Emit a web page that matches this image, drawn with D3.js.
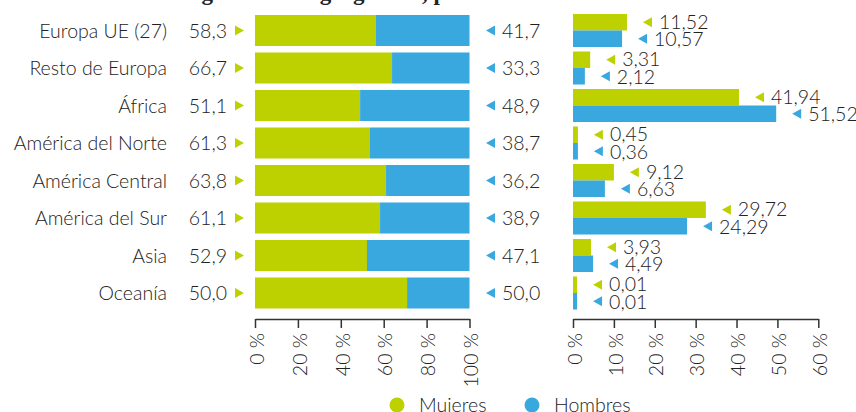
<!DOCTYPE html>
<html><head><meta charset="utf-8">
<script src="https://cdn.jsdelivr.net/npm/d3@7"></script>
<style>body{margin:0;background:#fff;overflow:hidden} text{font-family:Lato,sans-serif;font-weight:300;fill:#222}</style>
</head><body><svg id="c" width="856" height="412"></svg>
<script>
const title = "Distribución según la zona geográfica, por sexo";
const categories = ["Europa UE (27)","Resto de Europa","África","América del Norte","América Central","América del Sur","Asia","Oceanía"];
// percentage labels (share of each sex within area)
const mujeresPct = [58.3,66.7,51.1,61.3,63.8,61.1,52.9,50.0];
const hombresPct = [41.7,33.3,48.9,38.7,36.2,38.9,47.1,50.0];
// women's share as drawn by the stacked bars of the original
const mujeresBarPct = [56.4,63.9,49.0,53.6,61.1,58.3,52.2,70.9];
// share of each area within total, by sex (labels)
const mujeresShare = [11.52,3.31,41.94,0.45,9.12,29.72,3.93,0.01];
const hombresShare = [10.57,2.12,51.52,0.36,6.63,24.29,4.49,0.01];
// bar lengths as drawn in the original
const mujeresShareBar = [13.2,4.2,40.6,1.2,10.0,32.5,4.4,1.0];
const hombresShareBar = [12.0,2.9,49.7,1.2,7.8,27.9,4.9,1.0];
const pctTicks = [0,20,40,60,80,100];
const shareTicks = [0,10,20,30,40,50,60];
const legendLabels = ["Mujeres","Hombres"];

const GREEN = "#bdd000", BLUE = "#38a8df";
const svg = d3.select("#c");
const loc = d3.formatLocale({decimal:",",thousands:".",grouping:[3],currency:["","€"]});
const f1 = loc.format(".1f"), f2 = loc.format(".2f");
const FS = 19.5;

svg.append("text").attr("x",54).attr("y",0)
  .style("font-family","'Liberation Serif',serif").style("font-weight","bold").style("font-size","23px")
  .text(title);

const y = d3.scaleBand().domain(categories).range([11.75,311.75]).paddingInner(0.173).paddingOuter(0.0865);
const bw = y.bandwidth();
const xL = d3.scaleLinear().domain([0,100]).range([255,469.5]);
const xR = d3.scaleLinear().domain([0,60]).range([573,818.3]);

const rows = categories.map((c,i)=>({c,i}));

// category labels
svg.append("g").selectAll("text").data(rows).join("text")
  .attr("x",167).attr("y",d=>y(d.c)+bw/2+0.36*FS)
  .attr("text-anchor","end").style("font-size",FS+"px").text(d=>d.c);

// left value labels
svg.append("g").selectAll("text").data(rows).join("text")
  .attr("x",227).attr("y",d=>y(d.c)+bw/2+0.36*FS)
  .attr("text-anchor","end").style("font-size",FS+"px").text(d=>f1(mujeresPct[d.i]));
svg.append("g").selectAll("path").data(rows).join("path")
  .attr("d","M0,-5L9,0L0,5Z").attr("fill",GREEN)
  .attr("transform",d=>`translate(235,${y(d.c)+bw/2})`);

// stacked bars
svg.append("g").selectAll("rect").data(rows).join("rect")
  .attr("x",xL(0)).attr("y",d=>y(d.c)).attr("height",bw)
  .attr("width",d=>xL(mujeresBarPct[d.i])-xL(0)).attr("fill",GREEN);
svg.append("g").selectAll("rect").data(rows).join("rect")
  .attr("x",d=>xL(mujeresBarPct[d.i])).attr("y",d=>y(d.c)).attr("height",bw)
  .attr("width",d=>xL(100)-xL(mujeresBarPct[d.i])).attr("fill",BLUE);

// right-side labels of stacked bars
svg.append("g").selectAll("path").data(rows).join("path")
  .attr("d","M0,0L9,-5L9,5Z").attr("fill",BLUE)
  .attr("transform",d=>`translate(486,${y(d.c)+bw/2})`);
svg.append("g").selectAll("text").data(rows).join("text")
  .attr("x",502).attr("y",d=>y(d.c)+bw/2+0.36*FS)
  .style("font-size",FS+"px").text(d=>f1(hombresPct[d.i]));

// right chart bars
const sub = d3.scaleBand().domain(["M","H"]).range([-1,bw+1]);
const series = [
  {k:"M",bar:mujeresShareBar,val:mujeresShare,col:GREEN,dy:6.5},
  {k:"H",bar:hombresShareBar,val:hombresShare,col:BLUE,dy:7.5}
];
series.forEach(s=>{
  const g = svg.append("g");
  g.selectAll("rect").data(rows).join("rect")
    .attr("x",xR(0)).attr("y",d=>y(d.c)+sub(s.k)).attr("height",sub.bandwidth())
    .attr("width",d=>xR(s.bar[d.i])-xR(0)).attr("fill",s.col);
  g.selectAll("path").data(rows).join("path")
    .attr("d","M0,0L9,-5L9,5Z").attr("fill",s.col)
    .attr("transform",d=>`translate(${xR(s.bar[d.i])+16},${y(d.c)+sub(s.k)+sub.bandwidth()/2})`);
  g.selectAll("text").data(rows).join("text")
    .attr("x",d=>xR(s.bar[d.i])+32).attr("y",d=>y(d.c)+sub(s.k)+sub.bandwidth()/2+s.dy)
    .style("font-size",FS+"px").text(d=>f2(s.val[d.i]));
});

// axes
function drawAxis(scale, ticks){
  const g = svg.append("g").attr("transform","translate(0,319)");
  const ax = d3.axisBottom(scale).tickValues(ticks).tickSizeInner(9).tickSizeOuter(0).tickFormat(d=>d+" %");
  g.call(ax);
  g.select(".domain").attr("stroke","#333").attr("stroke-width",1.5);
  g.selectAll(".tick line").attr("stroke","#333").attr("stroke-width",1.5);
  g.selectAll(".tick text")
    .attr("transform","rotate(-90)")
    .attr("x",-14).attr("y",0).attr("dy","0.42em")
    .attr("text-anchor","end")
    .style("font-family","Lato,sans-serif").style("font-weight","300").style("font-size",FS+"px").attr("fill","#222");
}
drawAxis(xL, pctTicks);
drawAxis(xR, shareTicks);

// legend
const leg = svg.append("g");
const legX = [397,532];
leg.selectAll("circle").data(legendLabels).join("circle")
  .attr("cx",(d,i)=>legX[i]).attr("cy",405).attr("r",7.5)
  .attr("fill",(d,i)=>[GREEN,BLUE][i]);
leg.selectAll("text").data(legendLabels).join("text")
  .attr("x",(d,i)=>legX[i]+22).attr("y",411.5)
  .style("font-size",FS+"px").text(d=>d);
</script></body></html>
